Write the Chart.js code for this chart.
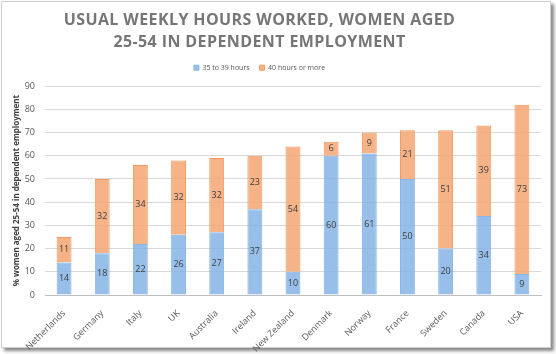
<!DOCTYPE html>
<html>
<head>
<meta charset="utf-8">
<script src="https://cdn.jsdelivr.net/npm/chart.js@4"></script>
<style>
  body { margin: 0; background: #fff; }
  #frame { position: absolute; left: 1px; top: 1px; width: 548px; height: 345px;
           border: 1px solid #cfcfcf; background: #fff; box-shadow: 3px 3px 3px #8a8a8a; }
  #wrap { position: absolute; left: 0; top: 0; width: 556px; height: 354px; }
</style>
</head>
<body>
<div id="frame"></div>
<div id="wrap"><canvas id="hoursChart"></canvas></div>
<script>
const countries = ['Netherlands', 'Germany', 'Italy', 'UK', 'Australia', 'Ireland', 'New Zealand',
  'Denmark', 'Norway', 'France', 'Sweden', 'Canada', 'USA'];
const hours35to39 = [14, 18, 22, 26, 27, 37, 10, 60, 61, 50, 20, 34, 9];
const hours40plus = [11, 32, 34, 32, 32, 23, 54, 6, 9, 21, 51, 39, 73];
const yTicks = [0, 10, 20, 30, 40, 50, 60, 70, 80, 90];

const FONT = 'Open Sans';

// numbers in the middle of each segment
const segLabels = {
  id: 'segLabels',
  afterDatasetsDraw(chart) {
    const ctx = chart.ctx;
    ctx.save();
    ctx.font = '9px "' + FONT + '"';
    ctx.fillStyle = '#404040';
    ctx.textAlign = 'center';
    ctx.textBaseline = 'middle';
    chart.data.datasets.forEach((ds, i) => {
      chart.getDatasetMeta(i).data.forEach((bar, j) => {
        ctx.fillText(ds.data[j], bar.x, (bar.y + bar.base) / 2);
      });
    });
    ctx.restore();
  }
};

// title + legend sit a bit left of centre in the original, title is letter-spaced
const headShift = {
  id: 'headShift',
  afterLayout(chart) {
    [chart.titleBlock, chart.legend].forEach(b => { b.left -= 11; b.right -= 11; });
    chart.legend.top -= 5;
    chart.legend.bottom -= 5;
    const t = chart.titleBlock;
    if (!t._spaced) {
      const orig = t.draw;
      t.draw = function () {
        const ctx = this.ctx;
        ctx.save();
        ctx.letterSpacing = '0.4px';
        orig.apply(this, arguments);
        ctx.restore();
      };
      t._spaced = true;
    }
  }
};

const hours_config = {
  type: 'bar',
  data: {
    labels: countries,
    datasets: [{
      label: '35 to 39 hours',
      data: hours35to39,
      backgroundColor: 'rgba(125,175,228,0.8)',
      borderColor: '#86b5e6',
      borderWidth: 1
    }, {
      label: '40 hours or more',
      data: hours40plus,
      backgroundColor: 'rgba(245,168,120,0.88)',
      borderColor: '#f29a61',
      borderWidth: 1
    }]
  },
  options: {
    responsive: true,
    maintainAspectRatio: false,
    animation: false,
    layout: { padding: { left: 0, right: 15, top: 7, bottom: 0 } },
    datasets: { bar: { categoryPercentage: 1, barPercentage: 0.39 } },
    plugins: {
      title: {
        display: true,
        text: ['USUAL WEEKLY HOURS WORKED, WOMEN AGED', '25-54 IN DEPENDENT EMPLOYMENT'],
        color: '#767676',
        font: { family: FONT, size: 16, weight: 'bold', lineHeight: 1.38 },
        padding: { top: 2, bottom: 6 }
      },
      legend: {
        labels: {
          boxWidth: 5, boxHeight: 5, color: '#595959',
          font: { family: FONT, size: 7 }, padding: 10
        }
      },
      tooltip: { enabled: false }
    },
    scales: {
      x: {
        stacked: true,
        grid: { display: false },
        border: { color: '#bfbfbf' },
        ticks: { color: '#595959', font: { family: FONT, size: 9 }, maxRotation: 45, minRotation: 45, padding: 5 },
        afterFit(s) { s.height = 59; }
      },
      y: {
        stacked: true,
        min: 0, max: 90,
        afterBuildTicks(s) { s.ticks = yTicks.map(v => ({ value: v })); },
        grid: { color: '#d9d9d9', drawTicks: false },
        border: { display: false },
        ticks: { color: '#595959', font: { family: FONT, size: 9 }, padding: 10 },
        title: {
          display: true,
          text: '% women aged 25-54 in dependent employment',
          color: '#404040',
          font: { family: FONT, size: 8, weight: 'bold' },
          padding: { top: 12, bottom: 4 }
        },
        afterFit(s) { s.width = 45; }
      }
    }
  },
  plugins: [segLabels, headShift]
};

var hours_chart = new Chart(document.getElementById('hoursChart'), hours_config);
</script>
</body>
</html>
